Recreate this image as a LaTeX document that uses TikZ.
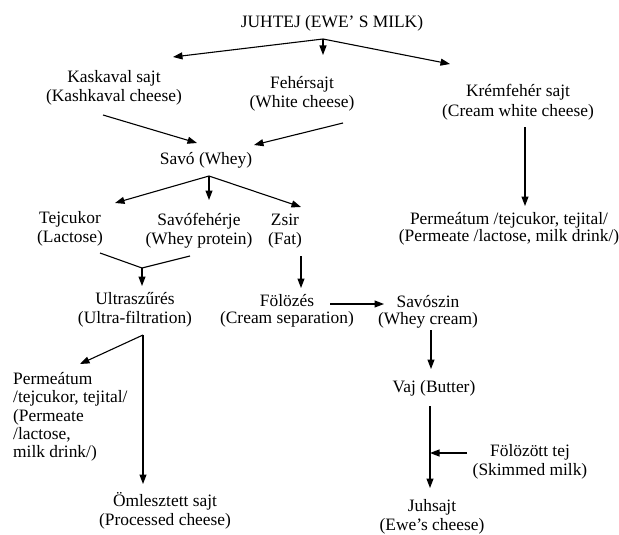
\documentclass[tikz,border=0pt]{standalone}
\usepackage{fontspec}
\setmainfont{Liberation Serif}
\usetikzlibrary{arrows.meta}
\begin{document}
\begin{tikzpicture}[x=1pt,y=-1pt,
  lbl/.style={inner sep=0pt, align=center, font=\fontsize{17.4}{19.5}\selectfont},
  tight/.style={font=\fontsize{17.4}{17.5}\selectfont},
  arr/.style={line width=1.1pt, -{Triangle[length=9.5pt,width=7pt]}},
  ln/.style={line width=1.1pt}]
\fill[white] (0,0) rectangle (619,535);
\useasboundingbox (0,0) rectangle (619,535);
% nodes
\node[lbl] (milk)   at (332,23)  {JUHTEJ (EWE' S MILK)};
\node[lbl] (kask)   at (114,88)  {Kaskaval sajt\\(Kashkaval cheese)};
\node[lbl] (feher)  at (302,94)  {Fehérsajt\\(White cheese)};
\node[lbl] (krem)   at (518,102) {Krémfehér sajt\\(Cream white cheese)};
\node[lbl] (savo)   at (206,160) {Savó (Whey)};
\node[lbl] (tej)    at (70,229)  {Tejcukor\\(Lactose)};
\node[lbl] (savof)  at (199,231) {Savófehérje\\(Whey protein)};
\node[lbl] (zsir)   at (285,231) {Zsir\\(Fat)};
\node[lbl,tight] (permR) at (509,229) {Permeátum /tejcukor, tejital/\\(Permeate /lactose, milk drink/)};
\node[lbl] (ultra)  at (135,310) {Ultraszűrés\\(Ultra-filtration)};
\node[lbl,tight] (folo)   at (287,311) {Fölözés\\(Cream separation)};
\node[lbl,tight] (savosz) at (428,312) {Savószin\\(Whey cream)};
\node[lbl,align=left,anchor=west,font=\fontsize{17.4}{18.25}\selectfont] (permL) at (13,417) {Permeátum\\/tejcukor, tejital/\\(Permeate\\/lactose,\\milk drink/)};
\node[lbl] (omle)   at (165,511) {Ömlesztett sajt\\(Processed cheese)};
\node[lbl] (vaj)    at (434,388) {Vaj (Butter)};
\node[lbl] (skim)   at (530,462) {Fölözött tej\\(Skimmed milk)};
\node[lbl] (juh)    at (432,517) {Juhsajt\\(Ewe’s cheese)};
% junctions and arrow ends
\coordinate (j0) at (323,39);
\coordinate (tKask) at (173,57);
\coordinate (tFeher) at (323,55);
\coordinate (tKrem) at (450,64);
\coordinate (sKask) at (103,115);
\coordinate (tSavoL) at (197,143);
\coordinate (sFeher) at (343,123);
\coordinate (tSavoR) at (254,145);
\coordinate (sKrem) at (525,127);
\coordinate (tPermR) at (525,206);
\coordinate (j1) at (209,176);
\coordinate (tTej) at (115,203);
\coordinate (tSavof) at (209,200);
\coordinate (tZsir) at (301,207);
\coordinate (sTej) at (100,253);
\coordinate (sSavof) at (190,256);
\coordinate (j2) at (142,268);
\coordinate (tUltra) at (142,286);
\coordinate (sZsir) at (301,256);
\coordinate (tFolo) at (301,288);
\coordinate (sFolo) at (330,304);
\coordinate (tSavosz) at (384,304);
\coordinate (j3) at (143,335);
\coordinate (tPermL) at (80,364);
\coordinate (tOmle) at (143,484);
\coordinate (sSavosz) at (431,330);
\coordinate (tVaj) at (431,369);
\coordinate (sVaj) at (430,406);
\coordinate (tJuh) at (430,488);
\coordinate (sSkim) at (467,453);
\coordinate (tSkim) at (430,453);
% connectors
\draw[arr] (j0) -- (tKask);
\draw[arr] (j0) -- (tFeher);
\draw[arr] (j0) -- (tKrem);
\draw[arr] (sKask) -- (tSavoL);
\draw[arr] (sFeher) -- (tSavoR);
\draw[arr] (sKrem) -- (tPermR);
\draw[arr] (j1) -- (tTej);
\draw[arr] (j1) -- (tSavof);
\draw[arr] (j1) -- (tZsir);
\draw[ln] (sTej) -- (j2) -- (sSavof);
\draw[arr] (j2) -- (tUltra);
\draw[arr] (sZsir) -- (tFolo);
\draw[arr] (sFolo) -- (tSavosz);
\draw[arr] (j3) -- (tPermL);
\draw[arr] (j3) -- (tOmle);
\draw[arr] (sSavosz) -- (tVaj);
\draw[arr] (sVaj) -- (tJuh);
\draw[arr] (sSkim) -- (tSkim);
\end{tikzpicture}
\end{document}
